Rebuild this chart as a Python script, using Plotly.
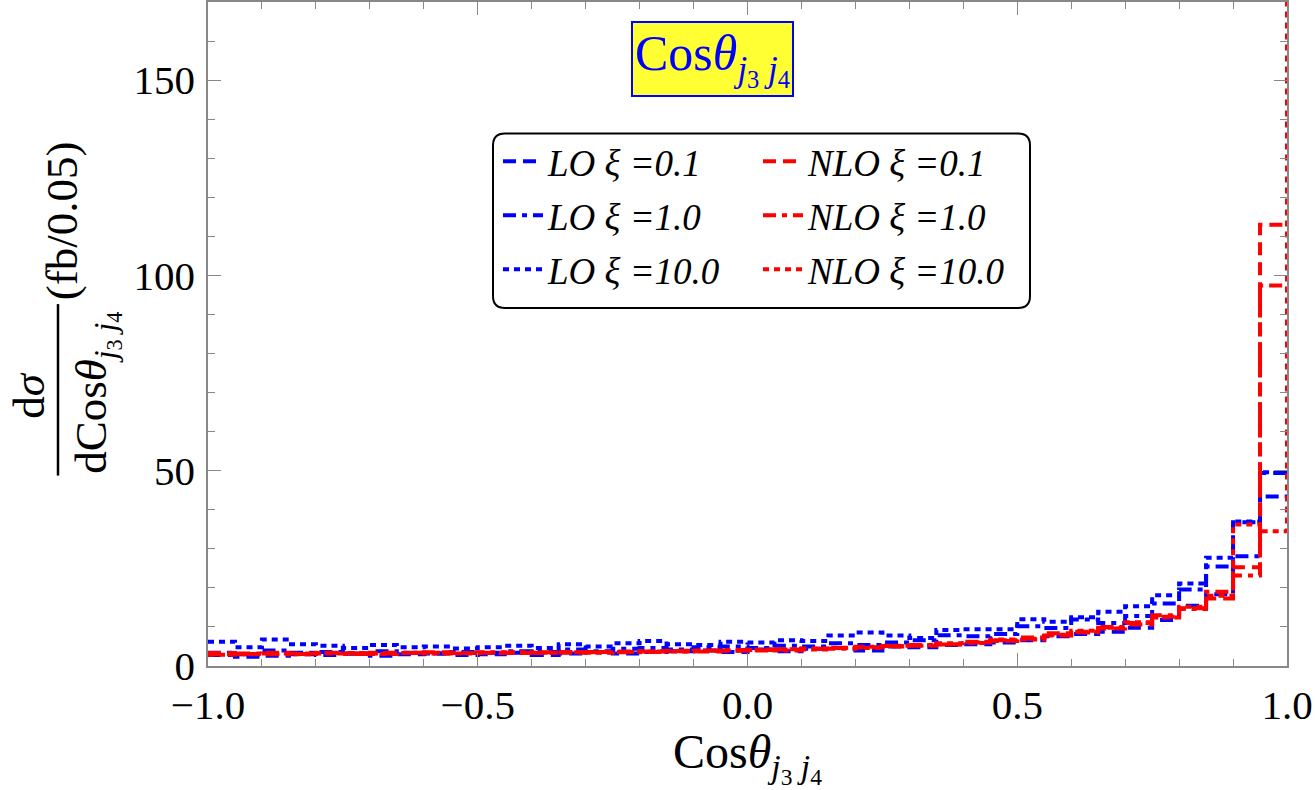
import plotly.graph_objects as go

bin_left = [round(-1.0 + 0.05 * i, 2) for i in range(40)]
x_end = 1.0

lo_xi01 = [2.8, 2.4, 2.6, 3.0, 2.8, 3.2, 2.6, 3.0, 3.2, 2.8,
           3.0, 3.4, 2.8, 3.2, 3.6, 3.2, 3.6, 3.8, 4.0, 3.6,
           4.2, 3.8, 4.4, 4.6, 4.0, 5.0, 4.8, 5.4, 5.6, 6.0,
           6.6, 7.6, 8.2, 8.8, 9.8, 11.8, 15.4, 18.4, 36.8, 49.4]
lo_xi10 = [3.4, 3.0, 4.0, 3.4, 3.6, 3.2, 3.8, 3.4, 3.2, 3.6,
           3.4, 3.8, 3.6, 4.2, 3.8, 4.4, 4.6, 4.2, 4.8, 5.0,
           4.6, 5.2, 5.0, 5.8, 5.4, 6.0, 6.6, 7.9, 7.6, 8.2,
           10.2, 9.7, 11.9, 11.0, 12.8, 16.0, 19.6, 25.5, 28.1, 43.4]
lo_xi100 = [6.2, 4.8, 6.8, 5.6, 5.2, 4.6, 5.4, 4.8, 5.0, 4.5,
            4.8, 5.2, 4.6, 5.6, 5.0, 5.8, 6.4, 5.6, 5.4, 6.2,
            6.0, 6.6, 6.4, 7.8, 8.6, 7.8, 7.2, 9.2, 9.4, 9.4,
            12.0, 11.3, 12.5, 13.9, 15.3, 18.1, 21.1, 27.7, 37.0, 49.6]
nlo_xi01 = [3.3, 3.1, 3.4, 3.2, 3.4, 3.2, 3.4, 3.3, 3.5, 3.3,
            3.4, 3.3, 3.5, 3.4, 3.6, 3.5, 3.7, 3.8, 3.7, 3.9,
            4.0, 4.2, 4.4, 4.6, 4.8, 5.0, 5.2, 5.6, 6.0, 6.4,
            7.0, 7.8, 8.6, 9.6, 10.6, 12.6, 14.8, 17.3, 25.3, 113.0]
nlo_xi10 = [3.0, 3.2, 3.0, 3.1, 3.3, 3.1, 3.2, 3.4, 3.2, 3.3,
            3.5, 3.4, 3.3, 3.6, 3.5, 3.7, 3.6, 3.9, 4.0, 4.1,
            4.2, 4.0, 4.5, 4.4, 4.9, 5.1, 5.4, 5.5, 6.2, 6.6,
            7.3, 8.4, 8.8, 10.0, 11.0, 13.0, 14.6, 19.0, 23.2, 97.4]
nlo_xi100 = [2.9, 3.0, 3.2, 3.0, 3.2, 3.3, 3.1, 3.3, 3.4, 3.2,
             3.3, 3.5, 3.4, 3.5, 3.4, 3.6, 3.8, 3.7, 3.9, 4.0,
             4.1, 4.3, 4.2, 4.7, 4.6, 5.2, 5.3, 5.8, 5.9, 6.8,
             6.8, 8.0, 9.0, 9.8, 11.2, 12.4, 15.2, 18.0, 36.2, 34.5]
nlo_xi100_endpoint = 400.0  # overflow value at x = 1.0 (beyond the plot top)

x_ticks = [-1.0, -0.5, 0.0, 0.5, 1.0]
y_ticks = [0, 50, 100, 150]

FONT = "Liberation Serif"
BLUE = "#0000FF"
RED = "#FF0000"
DASH = "13px,7px"
DASHDOT = "13px,6px,5px,6px"
DOT = "6px,5px"

series = [
    ("<i>LO ξ =0.1</i>", lo_xi01, None, BLUE, DASH, "legend"),
    ("<i>LO ξ =1.0</i>", lo_xi10, None, BLUE, DASHDOT, "legend"),
    ("<i>LO ξ =10.0</i>", lo_xi100, None, BLUE, DOT, "legend"),
    ("<i>NLO ξ =0.1</i>", nlo_xi01, None, RED, DASH, "legend2"),
    ("<i>NLO ξ =1.0</i>", nlo_xi10, None, RED, DASHDOT, "legend2"),
    ("<i>NLO ξ =10.0</i>", nlo_xi100, nlo_xi100_endpoint, RED, DOT, "legend2"),
]

fig = go.Figure()
for i, (name, vals, endv, col, dash, leg) in enumerate(series):
    xs = bin_left + [x_end]
    ys = vals + [vals[-1] if endv is None else endv]
    fig.add_trace(go.Scatter(
        x=xs, y=ys, mode="lines", name=name,
        line=dict(color=col, width=4, dash=dash, shape="hv"),
        legend=leg, legendgroup=f"g{i}", cliponaxis=True,
    ))

W, H = 1315, 790
L, R, T, B = 208, 28, 0, 124
pw, ph = W - L - R, H - T - B


def px(xp):
    return (xp - L) / pw


def py(yp):
    return (H - B - yp) / ph


axis_common = dict(
    showgrid=False, zeroline=False, showline=True, linecolor="#888888",
    linewidth=1.5, mirror="ticks", ticks="inside", ticklen=13,
    tickcolor="#888888", tickwidth=1.2,
    tickfont=dict(family=FONT, size=41, color="black"),
)

SUBTXT = "Cos<i>θ</i><sub><i>j</i><sub>3</sub> <i>j</i><sub>4</sub></sub>"

fig.update_layout(
    width=W, height=H,
    margin=dict(l=L, r=R, t=T, b=B),
    paper_bgcolor="white", plot_bgcolor="white",
    font=dict(family=FONT, color="black"),
    xaxis=dict(
        range=[-1.0, 1.0], tickvals=x_ticks, tickformat=".1f",
        ticklabelstandoff=2,
        minor=dict(dtick=0.1, tick0=-1.0, ticklen=7, tickcolor="#888888",
                   ticks="inside", showgrid=False),
        title=dict(text=SUBTXT, font=dict(family=FONT, size=48), standoff=6),
        **axis_common,
    ),
    yaxis=dict(
        range=[0, 170], tickvals=y_ticks, ticklabelstandoff=3,
        minor=dict(dtick=10, tick0=0, ticklen=7, tickcolor="#888888",
                   ticks="inside", showgrid=False),
        **axis_common,
    ),
    legend=dict(
        x=px(498), y=py(129), xanchor="left", yanchor="top",
        bgcolor="rgba(0,0,0,0)", borderwidth=0, tracegroupgap=3,
        font=dict(family=FONT, size=37, color="black"), itemwidth=40,
    ),
    legend2=dict(
        x=px(758), y=py(129), xanchor="left", yanchor="top",
        bgcolor="rgba(0,0,0,0)", borderwidth=0, tracegroupgap=3,
        font=dict(family=FONT, size=37, color="black"), itemwidth=40,
    ),
    showlegend=True,
)

# rounded legend frame
bx0, bx1, by0, by1 = px(493), px(1030), py(307), py(132)
rx, ry = 12 / pw, 12 / ph
path = (f"M{bx0+rx},{by1} L{bx1-rx},{by1} Q{bx1},{by1} {bx1},{by1-ry} "
        f"L{bx1},{by0+ry} Q{bx1},{by0} {bx1-rx},{by0} L{bx0+rx},{by0} "
        f"Q{bx0},{by0} {bx0},{by0+ry} L{bx0},{by1-ry} Q{bx0},{by1} {bx0+rx},{by1} Z")
fig.add_shape(type="path", path=path, xref="paper", yref="paper",
              line=dict(color="black", width=2), fillcolor="white", layer="below")

# title box
fig.add_annotation(
    x=px(712), y=py(57), xref="paper", yref="paper", showarrow=False,
    xanchor="center", yanchor="middle",
    text=SUBTXT, font=dict(family=FONT, size=50, color=BLUE),
    bgcolor="#FFFF33", bordercolor=BLUE, borderwidth=2, borderpad=2,
)

# y-axis title as a fraction
fig.add_annotation(x=px(29), y=py(395), xref="paper", yref="paper", showarrow=False,
                   xanchor="center", yanchor="middle",
                   text="d<i>σ</i>", textangle=-90,
                   font=dict(family=FONT, size=45, color="black"))
fig.add_shape(type="line", xref="paper", yref="paper",
              x0=px(58), x1=px(58), y0=py(475), y1=py(303),
              line=dict(color="black", width=2.5))
fig.add_annotation(x=px(97), y=py(392), xref="paper", yref="paper", showarrow=False,
                   xanchor="center", yanchor="middle",
                   text="d" + SUBTXT, textangle=-90,
                   font=dict(family=FONT, size=45, color="black"))
fig.add_annotation(x=px(62), y=py(220), xref="paper", yref="paper", showarrow=False,
                   xanchor="center", yanchor="middle",
                   text="(fb/0.05)", textangle=-90,
                   font=dict(family=FONT, size=45, color="black"))

fig.write_html("out.html")
